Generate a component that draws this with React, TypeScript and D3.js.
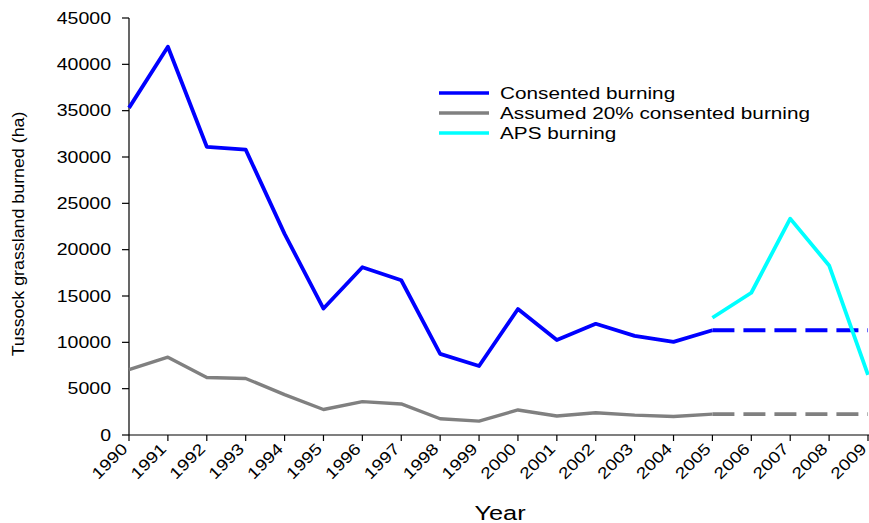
import React from "react";
import * as d3 from "d3";

const years = [1990, 1991, 1992, 1993, 1994, 1995, 1996, 1997, 1998, 1999, 2000, 2001, 2002, 2003, 2004, 2005, 2006, 2007, 2008, 2009];
const consentedYears = [1990, 1991, 1992, 1993, 1994, 1995, 1996, 1997, 1998, 1999, 2000, 2001, 2002, 2003, 2004, 2005];
const consented = [35300, 41900, 31100, 30800, 21700, 13650, 18100, 16700, 8750, 7450, 13600, 10250, 12000, 10700, 10050, 11300];
const assumed = [7050, 8400, 6200, 6100, 4350, 2750, 3600, 3350, 1750, 1500, 2700, 2050, 2400, 2150, 2000, 2250];
const projYears = [2005, 2006, 2007, 2008, 2009];
const consentedProj = [11300, 11300, 11300, 11300, 11300];
const assumedProj = [2250, 2250, 2250, 2250, 2250];
const apsYears = [2005, 2006, 2007, 2008, 2009];
const aps = [12650, 15350, 23350, 18300, 6500];
const yTicks = [0, 5000, 10000, 15000, 20000, 25000, 30000, 35000, 40000, 45000];
const legendLabels = ["Consented burning", "Assumed 20% consented burning", "APS burning"];
const legendColors = ["#0000ff", "#808080", "#00ffff"];

const W = 869;
const H = 523;
const FONT = "'Liberation Sans', Arial, Helvetica, sans-serif";

export default function App() {
  const x = d3.scaleLinear().domain([1990, 2009]).range([129, 868]);
  const y = d3.scaleLinear().domain([0, 45000]).range([435, 18]);
  const line = d3
    .line<[number, number]>()
    .x((d) => x(d[0]))
    .y((d) => y(d[1]))
    .curve(d3.curveLinear);

  const zip = (xs: number[], vs: number[]) => xs.map((v, i) => [v, vs[i]] as [number, number]);

  const x0 = x(1990);

  return (
    <svg
      width={W}
      height={H}
      style={{ position: "absolute", left: 0, top: 0, display: "block", background: "#fff", overflow: "hidden" }}
      fontFamily={FONT}
    >
      <rect x={0} y={0} width={W} height={H} fill="#fff" />
      {/* axes */}
      <line x1={x0} x2={x0} y1={y(45000)} y2={y(0)} stroke="#000" strokeWidth={1.2} />
      <line x1={x0} x2={W} y1={y(0)} y2={y(0)} stroke="#000" strokeWidth={1.2} />
      {yTicks.map((t) => (
        <g key={t}>
          <line x1={x0 - 7} x2={x0} y1={y(t)} y2={y(t)} stroke="#000" strokeWidth={1.2} />
          <text
            transform={`translate(111, ${y(t)}) scale(1.22, 1)`}
            textAnchor="end"
            dy="0.35em"
            fontSize={16}
            fill="#000"
          >
            {t}
          </text>
        </g>
      ))}
      {years.map((yr) => (
        <g key={yr}>
          <line x1={x(yr)} x2={x(yr)} y1={y(0)} y2={y(0) + 6} stroke="#000" strokeWidth={1.2} />
          <text
            transform={`translate(${x(yr) - 4.5}, 446) rotate(-45) scale(1.2, 1)`}
            textAnchor="end"
            dy="0.35em"
            fontSize={16}
            fill="#000"
          >
            {yr}
          </text>
        </g>
      ))}
      {/* axis titles */}
      <text transform="translate(24, 234) rotate(-90) scale(1.08, 1)" textAnchor="middle" fontSize={16.5} fill="#000">
        Tussock grassland burned (ha)
      </text>
      <text transform="translate(500, 520) scale(1.3, 1)" textAnchor="middle" fontSize={19.5} fill="#000">
        Year
      </text>

      {/* series */}
      <path d={line(zip(consentedYears, assumed)) || ""} fill="none" stroke="#808080" strokeWidth={3.4} strokeLinejoin="round" />
      <path
        d={line(zip(projYears, assumedProj)) || ""}
        fill="none"
        stroke="#808080"
        strokeWidth={3.6}
        strokeDasharray="22 9"
      />
      <path d={line(zip(consentedYears, consented)) || ""} fill="none" stroke="#0000ff" strokeWidth={3.8} strokeLinejoin="round" />
      <path
        d={line(zip(projYears, consentedProj)) || ""}
        fill="none"
        stroke="#0000ff"
        strokeWidth={4}
        strokeDasharray="22 9"
      />
      <path d={line(zip(apsYears, aps)) || ""} fill="none" stroke="#00ffff" strokeWidth={3.8} strokeLinejoin="round" />

      {/* legend */}
      {legendLabels.map((lab, i) => (
        <g key={lab}>
          <line x1={439} x2={489} y1={93 + i * 20} y2={93 + i * 20} stroke={legendColors[i]} strokeWidth={3.5} />
          <text transform={`translate(500, ${98.5 + i * 20}) scale(1.22, 1)`} fontSize={17} fill="#000">
            {lab}
          </text>
        </g>
      ))}
    </svg>
  );
}
